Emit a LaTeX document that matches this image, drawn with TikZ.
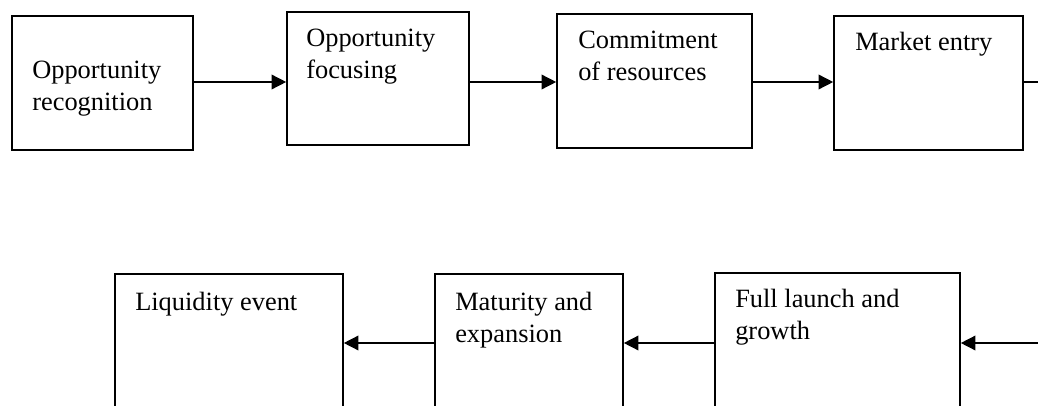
\documentclass[tikz,border=0pt]{standalone}
\usepackage{fontspec}
\setmainfont{Liberation Serif}
\usetikzlibrary{arrows.meta}

\tikzset{
  stagebox/.style={draw, line width=1.2pt, rectangle, inner sep=0pt},
  stagetext/.style={anchor=north west, inner sep=0pt, align=left, font=\fontsize{19.8}{23.5}\selectfont},
  flow/.style={line width=1.1pt, -{Triangle[length=11pt,width=11pt]}}
}

\begin{document}
\begin{tikzpicture}[x=0.75pt,y=0.75pt,yscale=-1,xscale=1]
        \useasboundingbox (0,0) rectangle (1038,406);
        \clip (0,0) rectangle (1038,406);
        
        % Top row of boxes
        \node [stagebox, minimum width=135.75pt, minimum height=100.5pt] (recog) at (102.5,83) {};
        \node [stagebox, minimum width=136.5pt, minimum height=99.75pt] (focus) at (378,78.5) {};
        \node [stagebox, minimum width=146.25pt, minimum height=100.5pt] (commit) at (654.5,81) {};
        \node [stagebox, minimum width=141.75pt, minimum height=100.5pt] (entry) at (928.5,83) {};
        
        % Bottom row of boxes (cut at the lower edge)
        \node [stagebox, minimum width=171pt, minimum height=109.5pt] (liquid) at (229,347) {};
        \node [stagebox, minimum width=141pt, minimum height=109.5pt] (mature) at (529,347) {};
        \node [stagebox, minimum width=183.75pt, minimum height=110.25pt] (launch) at (837.5,346.5) {};
        
        % Text Nodes
        \node [stagetext] (recogtxt) at (32,56.5) {\strut Opportunity\\recognition};
        \node [stagetext] (focustxt) at (306,24.5) {\strut Opportunity\\focusing};
        \node [stagetext] (committxt) at (578,26.5) {\strut Commitment\\of resources};
        \node [stagetext] (entrytxt) at (855,28.5) {\strut Market entry};
        \node [stagetext] (liquidtxt) at (135,288.5) {\strut Liquidity event};
        \node [stagetext] (maturetxt) at (455,288.5) {\strut Maturity and\\expansion};
        \node [stagetext] (launchtxt) at (735,285.5) {\strut Full launch and\\growth};
        
        % Row levels and the free ends at the right edge
        \coordinate (toprow) at (0,82);
        \coordinate (botrow) at (0,343);
        \coordinate (topend) at (1038,82);
        \coordinate (botend) at (1038,343);
        
        % Connectors
        \draw [flow] (recog.east |- toprow) -- (focus.west |- toprow);
        \draw [flow] (focus.east |- toprow) -- (commit.west |- toprow);
        \draw [flow] (commit.east |- toprow) -- (entry.west |- toprow);
        \draw [line width=1.1pt] (entry.east |- toprow) -- (topend);
        \draw [flow] (botend) -- (launch.east |- botrow);
        \draw [flow] (launch.west |- botrow) -- (mature.east |- botrow);
        \draw [flow] (mature.west |- botrow) -- (liquid.east |- botrow);
        
\end{tikzpicture}
\end{document}
